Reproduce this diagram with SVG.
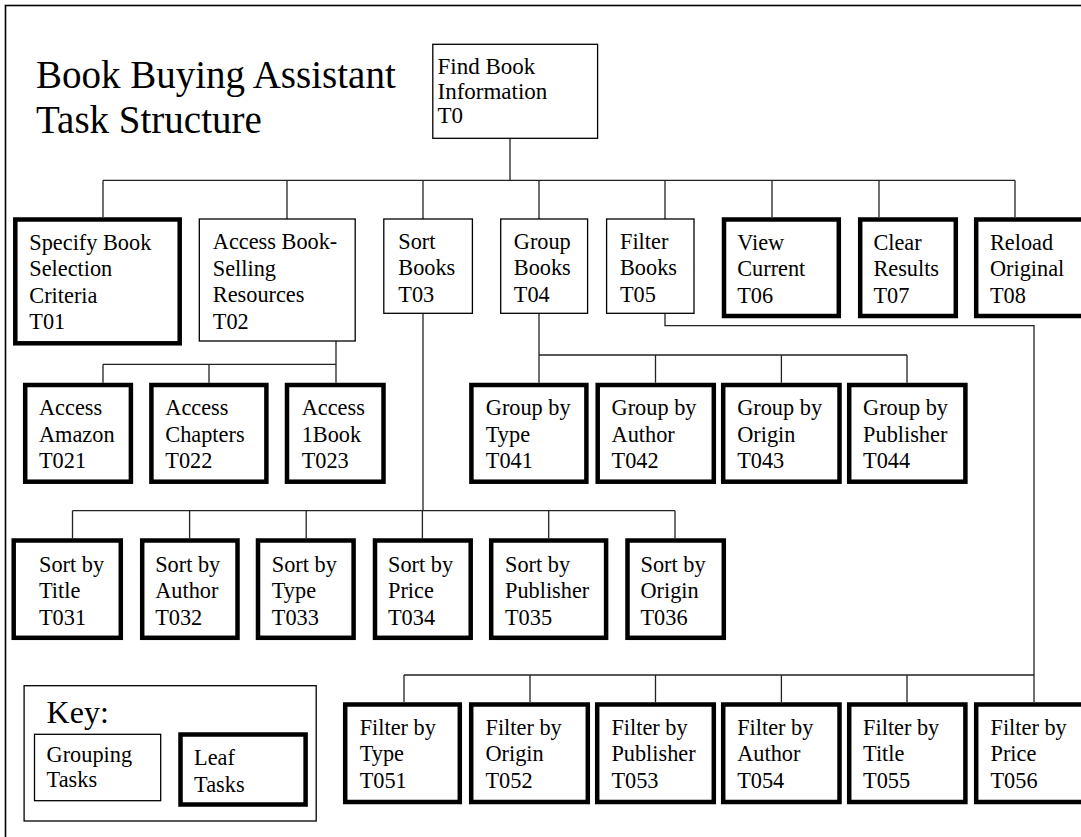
<svg xmlns="http://www.w3.org/2000/svg" width="1081" height="837" viewBox="0 0 1081 837">
  <style>
    text { font-family: "Liberation Serif", "Times New Roman", serif; fill: #000; }
    .t { font-size: 22.3px; }
    .t0 { font-size: 23px; }
    .title { font-size: 39px; }
    .key { font-size: 32px; }
    .grp { fill: #fff; stroke: #000; stroke-width: 1.3; }
    .leaf { fill: #fff; stroke: #000; stroke-width: 4.5; }
    .conn { fill: none; stroke: #222; stroke-width: 1.3; }
    .frame { fill: none; stroke: #000; stroke-width: 1.6; }
  </style>
  <rect width="1081" height="837" fill="#fff"/>
  <rect class="frame" x="5.5" y="5.5" width="1200" height="1000"/>

  <!-- heading -->
  <text class="title" x="36" y="88">Book Buying Assistant</text>
  <text class="title" x="36" y="133">Task Structure</text>

  <!-- connectors -->
  <g id="connectors">
    <!-- T0 to level 1 -->
    <path class="conn" d="M510 138.3 V180.3 M103 180.3 H1015 M103 180.3 V217 M287 180.3 V219 M423 180.3 V219 M539 180.3 V219 M665 180.3 V219 M772 180.3 V217 M879 180.3 V217 M1015 180.3 V217"/>
    <!-- T02 children -->
    <path class="conn" d="M336 341 V364.3 M103 364.3 H336 M103 364.3 V382.7 M209 364.3 V382.7 M336 364.3 V382.7"/>
    <!-- T04 children -->
    <path class="conn" d="M539 313.3 V355 H907 M539 355 V382.7 M655.5 355 V382.7 M781.4 355 V382.7 M907 355 V382.7"/>
    <!-- T03 children -->
    <path class="conn" d="M423 313.3 V510.7 M72.5 510.7 H675 M72.5 510.7 V538.3 M189.6 510.7 V538.3 M306.2 510.7 V538.3 M422.4 510.7 V538.3 M548.7 510.7 V538.3 M675 510.7 V538.3"/>
    <!-- T05 children -->
    <path class="conn" d="M665 313.3 V325.7 H1034 V702.3 M404 675 H1034 M404 675 V702.3 M530 675 V702.3 M655.5 675 V702.3 M781.4 675 V702.3 M907 675 V702.3"/>
  </g>

  <!-- root -->
  <g id="T0">
    <rect class="grp" x="432.8" y="44.3" width="164.8" height="94"/>
    <text class="t0" x="437.5" y="74">Find Book</text>
    <text class="t0" x="437.5" y="98.5">Information</text>
    <text class="t0" x="437.5" y="123.3">T0</text>
  </g>

  <!-- level 1 -->
  <g id="T01">
    <rect class="leaf" x="15.3" y="219.5" width="164.4" height="123.8"/>
    <text class="t" x="29.3" y="249.5">Specify Book</text>
    <text class="t" x="29.3" y="276.1">Selection</text>
    <text class="t" x="29.3" y="302.7">Criteria</text>
    <text class="t" x="29.3" y="329.3">T01</text>
  </g>
  <g id="T02">
    <rect class="grp" x="199.3" y="219" width="155.9" height="122"/>
    <text class="t" x="212.8" y="249">Access Book-</text>
    <text class="t" x="212.8" y="275.6">Selling</text>
    <text class="t" x="212.8" y="302.2">Resources</text>
    <text class="t" x="212.8" y="328.8">T02</text>
  </g>
  <g id="T03">
    <rect class="grp" x="383.8" y="219" width="88.6" height="94.3"/>
    <text class="t" x="398.3" y="248.5">Sort</text>
    <text class="t" x="398.3" y="275.1">Books</text>
    <text class="t" x="398.3" y="301.7">T03</text>
  </g>
  <g id="T04">
    <rect class="grp" x="500.7" y="219" width="86.9" height="94.3"/>
    <text class="t" x="513.8" y="248.5">Group</text>
    <text class="t" x="513.8" y="275.1">Books</text>
    <text class="t" x="513.8" y="301.7">T04</text>
  </g>
  <g id="T05">
    <rect class="grp" x="606.6" y="219" width="87.4" height="94.3"/>
    <text class="t" x="620" y="248.5">Filter</text>
    <text class="t" x="620" y="275.1">Books</text>
    <text class="t" x="620" y="301.7">T05</text>
  </g>
  <g id="T06">
    <rect class="leaf" x="724" y="219.5" width="114.8" height="96.5"/>
    <text class="t" x="737.2" y="249.5">View</text>
    <text class="t" x="737.2" y="276.1">Current</text>
    <text class="t" x="737.2" y="302.7">T06</text>
  </g>
  <g id="T07">
    <rect class="leaf" x="860.2" y="219.5" width="95.6" height="96.5"/>
    <text class="t" x="873.4" y="249.5">Clear</text>
    <text class="t" x="873.4" y="276.1">Results</text>
    <text class="t" x="873.4" y="302.7">T07</text>
  </g>
  <g id="T08">
    <rect class="leaf" x="976.2" y="219.5" width="120" height="96.5"/>
    <text class="t" x="990" y="249.5">Reload</text>
    <text class="t" x="990" y="276.1">Original</text>
    <text class="t" x="990" y="302.7">T08</text>
  </g>

  <!-- access row -->
  <g id="T021">
    <rect class="leaf" x="25.2" y="385" width="105.7" height="96.7"/>
    <text class="t" x="39" y="415">Access</text>
    <text class="t" x="39" y="441.7">Amazon</text>
    <text class="t" x="39" y="468.3">T021</text>
  </g>
  <g id="T022">
    <rect class="leaf" x="151.4" y="385" width="115" height="96.7"/>
    <text class="t" x="165.3" y="415">Access</text>
    <text class="t" x="165.3" y="441.7">Chapters</text>
    <text class="t" x="165.3" y="468.3">T022</text>
  </g>
  <g id="T023">
    <rect class="leaf" x="287" y="385" width="96.5" height="96.7"/>
    <text class="t" x="301.7" y="415">Access</text>
    <text class="t" x="301.7" y="441.7">1Book</text>
    <text class="t" x="301.7" y="468.3">T023</text>
  </g>

  <!-- group row -->
  <g id="T041">
    <rect class="leaf" x="471.4" y="385" width="115" height="96.7"/>
    <text class="t" x="485.8" y="415">Group by</text>
    <text class="t" x="485.8" y="441.7">Type</text>
    <text class="t" x="485.8" y="468.3">T041</text>
  </g>
  <g id="T042">
    <rect class="leaf" x="597.7" y="385" width="116.1" height="96.7"/>
    <text class="t" x="611.6" y="415">Group by</text>
    <text class="t" x="611.6" y="441.7">Author</text>
    <text class="t" x="611.6" y="468.3">T042</text>
  </g>
  <g id="T043">
    <rect class="leaf" x="723.2" y="385" width="116.3" height="96.7"/>
    <text class="t" x="737.2" y="415">Group by</text>
    <text class="t" x="737.2" y="441.7">Origin</text>
    <text class="t" x="737.2" y="468.3">T043</text>
  </g>
  <g id="T044">
    <rect class="leaf" x="849.2" y="385" width="116.2" height="96.7"/>
    <text class="t" x="863.1" y="415">Group by</text>
    <text class="t" x="863.1" y="441.7">Publisher</text>
    <text class="t" x="863.1" y="468.3">T044</text>
  </g>

  <!-- sort row -->
  <g id="T031">
    <rect class="leaf" x="13.7" y="540.5" width="107.1" height="97.3"/>
    <text class="t" x="39" y="571.7">Sort by</text>
    <text class="t" x="39" y="598.3">Title</text>
    <text class="t" x="39" y="625">T031</text>
  </g>
  <g id="T032">
    <rect class="leaf" x="142.2" y="540.5" width="95.3" height="97.3"/>
    <text class="t" x="155.2" y="571.7">Sort by</text>
    <text class="t" x="155.2" y="598.3">Author</text>
    <text class="t" x="155.2" y="625">T032</text>
  </g>
  <g id="T033">
    <rect class="leaf" x="258" y="540.5" width="95.6" height="97.3"/>
    <text class="t" x="271.8" y="571.7">Sort by</text>
    <text class="t" x="271.8" y="598.3">Type</text>
    <text class="t" x="271.8" y="625">T033</text>
  </g>
  <g id="T034">
    <rect class="leaf" x="375" y="540.5" width="95.7" height="97.3"/>
    <text class="t" x="388" y="571.7">Sort by</text>
    <text class="t" x="388" y="598.3">Price</text>
    <text class="t" x="388" y="625">T034</text>
  </g>
  <g id="T035">
    <rect class="leaf" x="491.2" y="540.5" width="114.9" height="97.3"/>
    <text class="t" x="505" y="571.7">Sort by</text>
    <text class="t" x="505" y="598.3">Publisher</text>
    <text class="t" x="505" y="625">T035</text>
  </g>
  <g id="T036">
    <rect class="leaf" x="627.5" y="540.5" width="96.3" height="97.3"/>
    <text class="t" x="640.5" y="571.7">Sort by</text>
    <text class="t" x="640.5" y="598.3">Origin</text>
    <text class="t" x="640.5" y="625">T036</text>
  </g>

  <!-- filter row -->
  <g id="T051">
    <rect class="leaf" x="345.2" y="704.5" width="114.6" height="97.5"/>
    <text class="t" x="359.7" y="734.5">Filter by</text>
    <text class="t" x="359.7" y="761.1">Type</text>
    <text class="t" x="359.7" y="787.7">T051</text>
  </g>
  <g id="T052">
    <rect class="leaf" x="471.2" y="704.5" width="116.6" height="97.5"/>
    <text class="t" x="485.5" y="734.5">Filter by</text>
    <text class="t" x="485.5" y="761.1">Origin</text>
    <text class="t" x="485.5" y="787.7">T052</text>
  </g>
  <g id="T053">
    <rect class="leaf" x="597.2" y="704.5" width="116.6" height="97.5"/>
    <text class="t" x="611.4" y="734.5">Filter by</text>
    <text class="t" x="611.4" y="761.1">Publisher</text>
    <text class="t" x="611.4" y="787.7">T053</text>
  </g>
  <g id="T054">
    <rect class="leaf" x="723.2" y="704.5" width="116.3" height="97.5"/>
    <text class="t" x="737.2" y="734.5">Filter by</text>
    <text class="t" x="737.2" y="761.1">Author</text>
    <text class="t" x="737.2" y="787.7">T054</text>
  </g>
  <g id="T055">
    <rect class="leaf" x="849.2" y="704.5" width="116.2" height="97.5"/>
    <text class="t" x="863.1" y="734.5">Filter by</text>
    <text class="t" x="863.1" y="761.1">Title</text>
    <text class="t" x="863.1" y="787.7">T055</text>
  </g>
  <g id="T056">
    <rect class="leaf" x="976.2" y="704.5" width="120" height="97.5"/>
    <text class="t" x="990.5" y="734.5">Filter by</text>
    <text class="t" x="990.5" y="761.1">Price</text>
    <text class="t" x="990.5" y="787.7">T056</text>
  </g>

  <!-- legend -->
  <g id="key">
    <rect class="grp" x="24.1" y="685.7" width="292.1" height="135.3"/>
    <text class="key" x="46.6" y="722.7">Key:</text>
  </g>
  <g id="key-grouping">
    <rect class="grp" x="34.5" y="734.3" width="126.2" height="66.4"/>
    <text class="t" x="46.6" y="761.7">Grouping</text>
    <text class="t" x="46.6" y="786.7">Tasks</text>
  </g>
  <g id="key-leaf">
    <rect class="leaf" x="180.5" y="734.5" width="125.1" height="70"/>
    <text class="t" x="194.1" y="765">Leaf</text>
    <text class="t" x="194.1" y="791.7">Tasks</text>
  </g>
</svg>
